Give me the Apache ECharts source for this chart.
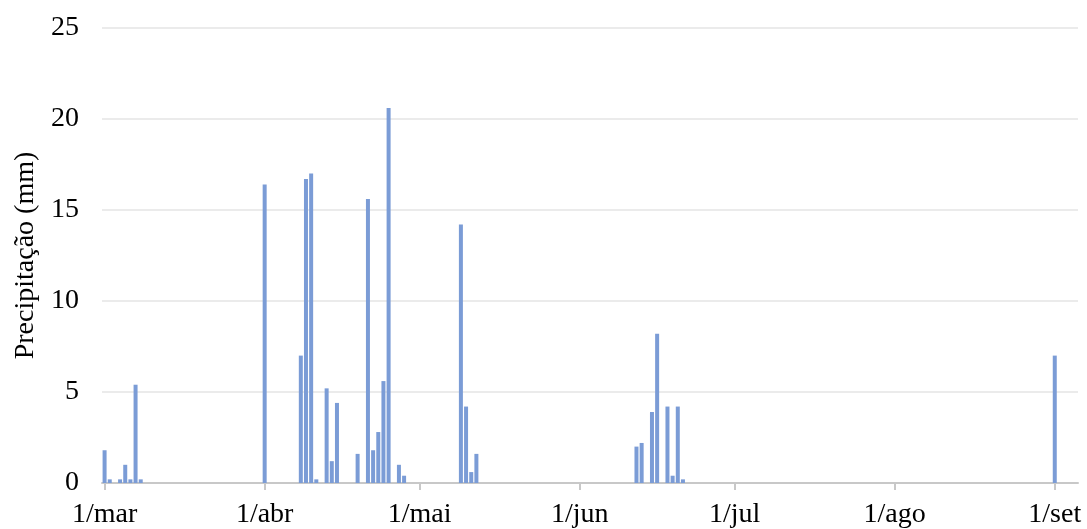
<!DOCTYPE html>
<html>
<head>
<meta charset="utf-8">
<script src="https://cdn.jsdelivr.net/npm/echarts@6/dist/echarts.min.js"></script>
<style>html,body{margin:0;padding:0;background:#fff;}#c{width:1087px;height:529px;}</style>
</head>
<body>
<div id="c"></div>
<script>
// Month names and day counts covered by the axis (1/mar .. 5/set)
const monthNames = ['mar', 'abr', 'mai', 'jun', 'jul', 'ago', 'set'];
const monthDays = [31, 30, 31, 30, 31, 31, 5];

// Rainy days (d/mon) and daily precipitation (mm)
const rainDates = ['1/mar', '2/mar', '4/mar', '5/mar', '6/mar', '7/mar', '8/mar',
  '1/abr', '8/abr', '9/abr', '10/abr', '11/abr', '13/abr', '14/abr', '15/abr', '19/abr',
  '21/abr', '22/abr', '23/abr', '24/abr', '25/abr', '27/abr', '28/abr',
  '9/mai', '10/mai', '11/mai', '12/mai',
  '12/jun', '13/jun', '15/jun', '16/jun', '18/jun', '19/jun', '20/jun', '21/jun',
  '1/set'];
const rainValues = [1.8, 0.2, 0.2, 1.0, 0.2, 5.4, 0.2,
  16.4, 7.0, 16.7, 17.0, 0.2, 5.2, 1.2, 4.4, 1.6,
  15.6, 1.8, 2.8, 5.6, 20.6, 1.0, 0.4,
  14.2, 4.2, 0.6, 1.6,
  2.0, 2.2, 3.9, 8.2, 4.2, 0.4, 4.2, 0.2,
  7.0];
const yTicks = [0, 5, 10, 15, 20, 25];

// Build daily categories and data
const categories = [];
monthNames.forEach((m, k) => {
  for (let d = 1; d <= monthDays[k]; d++) categories.push(d + '/' + m);
});
const lookup = {};
rainDates.forEach((d, i) => { lookup[d] = rainValues[i]; });
const dailyData = categories.map(c => (c in lookup ? lookup[c] : 0));

const isFirst = (idx) => categories[idx].startsWith('1/');
const font = '"Liberation Serif", "Times New Roman", serif';

const chart = echarts.init(document.getElementById('c'), null, {renderer: 'canvas'});
chart.setOption({
  animation: false,
  grid: {left: 102, right: 9, top: 28, bottom: 46, containLabel: false},
  xAxis: {
    type: 'category',
    data: categories,
    boundaryGap: true,
    axisLine: {lineStyle: {color: '#c8c8c8', width: 2}},
    axisTick: {show: true, alignWithLabel: true, interval: (i) => isFirst(i), length: 7, lineStyle: {color: '#c8c8c8', width: 2}},
    axisLabel: {interval: (i) => isFirst(i), color: '#000', fontFamily: font, fontSize: 28, margin: 18, showMaxLabel: true, showMinLabel: true, hideOverlap: false},
    splitLine: {show: false}
  },
  yAxis: {
    type: 'value',
    min: yTicks[0],
    max: yTicks[yTicks.length - 1],
    interval: 5,
    name: 'Precipitação (mm)',
    nameLocation: 'middle',
    nameGap: 62,
    nameTextStyle: {color: '#000', fontFamily: font, fontSize: 28},
    axisLine: {show: false},
    axisTick: {show: false},
    axisLabel: {color: '#000', fontFamily: font, fontSize: 28, margin: 23},
    splitLine: {lineStyle: {color: '#ebebeb', width: 2}}
  },
  series: [{
    type: 'bar',
    data: dailyData,
    barWidth: 4,
    itemStyle: {color: '#7b9cd6'}
  }]
});
</script>
</body>
</html>
